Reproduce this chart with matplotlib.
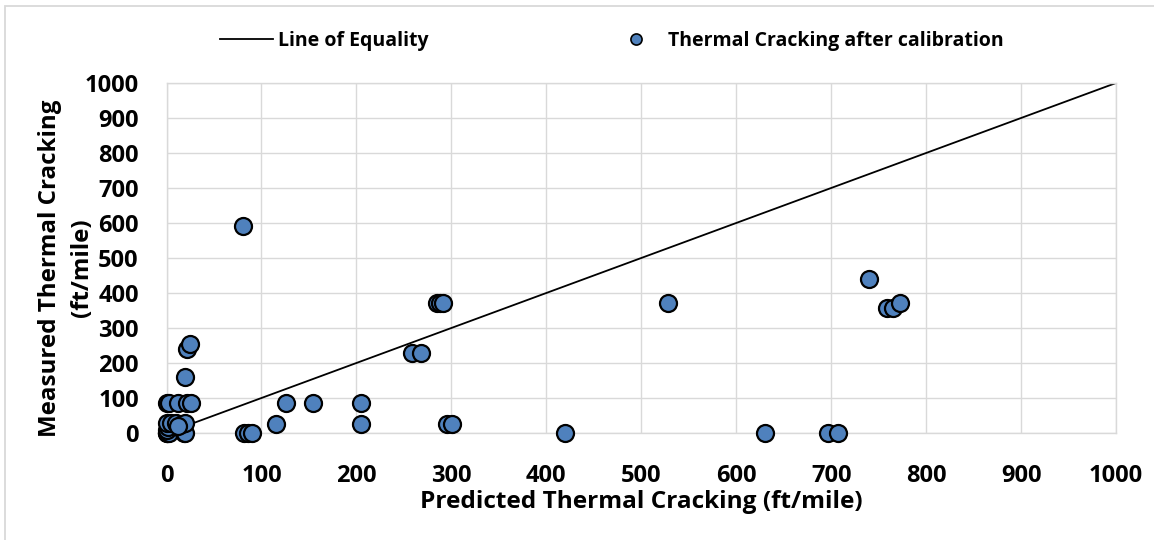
import matplotlib.pyplot as plt
from matplotlib.lines import Line2D
from matplotlib.patches import Rectangle

plt.rcParams['font.family'] = ['Open Sans', 'DejaVu Sans']
plt.rcParams['font.weight'] = 'bold'

# predicted vs measured thermal cracking (ft/mile)
predicted = [0, 3, 12, 22, 26,
             20, 22, 25,
             0, 0, 1, 3, 18, 20, 0, 2, 0, 5, 10, 16, 20, 12,
             81, 82, 86, 90,
             115, 126, 154, 205, 205,
             259, 268,
             285, 288, 291,
             295, 301,
             420, 528, 630, 697, 707,
             740, 759, 765, 773]
measured = [85, 85, 85, 85, 85,
            160, 240, 255,
            0, 0, 0, 0, 0, 0, 10, 18, 28, 28, 30, 25, 28, 20,
            592, 0, 0, 0,
            27, 85, 85, 85, 27,
            229, 229,
            371, 371, 371,
            27, 27,
            0, 371, 0, 0, 0,
            440, 358, 358, 371]

equality = [0, 1000]
ticks = [0, 100, 200, 300, 400, 500, 600, 700, 800, 900, 1000]

blue = '#4F81BD'
grid_c = '#d9d9d9'

fig = plt.figure(figsize=(11.54, 5.4), dpi=100)
ax = fig.add_axes([166.5 / 1154, 1 - 433 / 540, (1116 - 166.5) / 1154, 350 / 540])

ax.plot(equality, equality, color='black', lw=1.3, zorder=2)
ax.scatter(predicted, measured, s=150, color=blue, edgecolor='black',
           linewidth=1.6, zorder=3, clip_on=False)

ax.set_xlim(0, 1000)
ax.set_ylim(0, 1000)
ax.set_xticks(ticks)
ax.set_yticks(ticks)
ax.tick_params(axis='both', length=0, labelsize=17)
ax.tick_params(axis='x', pad=22)
ax.tick_params(axis='y', pad=20)
ax.grid(color=grid_c, lw=1.0, zorder=0)
ax.set_axisbelow(True)
for s in ax.spines.values():
    s.set_color(grid_c)
    s.set_linewidth(1.0)

fig.text(641 / 1154, 1 - 508 / 540, 'Predicted Thermal Cracking (ft/mile)',
         ha='center', va='baseline', fontsize=17.6, fontweight='bold')
fig.text(66 / 1154, 1 - 268 / 540, 'Measured Thermal Cracking\n(ft/mile)',
         ha='center', va='center', rotation=90, fontsize=17.4,
         fontweight='bold', multialignment='center', linespacing=1.4)

# legend entries, one per column
h_line = Line2D([], [], color='black', lw=1.3)
h_pt = Line2D([], [], ls='none', marker='o', markersize=8,
              markerfacecolor=blue, markeredgecolor='black', markeredgewidth=1.2)
fig.legend([h_line], ['Line of Equality'], loc='center left',
           bbox_to_anchor=(220 / 1154, 1 - 41 / 540), frameon=False,
           borderpad=0, borderaxespad=0, fontsize=14,
           handlelength=2.7, handletextpad=0.3)
fig.legend([h_pt], ['Thermal Cracking after calibration'], loc='center left',
           bbox_to_anchor=(617 / 1154, 1 - 41 / 540), frameon=False,
           borderpad=0, borderaxespad=0, fontsize=14,
           handlelength=2.0, handletextpad=0.6)

# chart area border
fig.patches.append(Rectangle((4.5 / 1154, -0.2), 2, 1.2 - 6 / 540,
                             transform=fig.transFigure, fill=False,
                             edgecolor=grid_c, lw=1.3))

fig.savefig('out.png', dpi=100, facecolor='white')
